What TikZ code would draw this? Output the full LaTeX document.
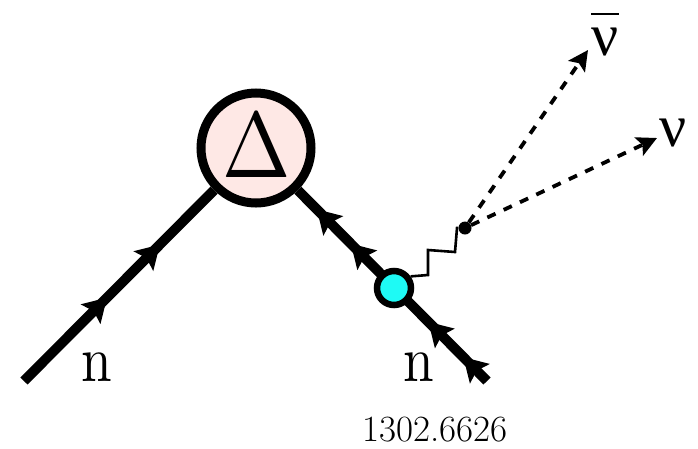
\documentclass[tikz,border=0pt]{standalone}
\usepackage{graphicx}
\usepackage{fontspec}
\newfontfamily\greekfont{Liberation Serif}
\usetikzlibrary{arrows.meta,decorations.markings}
\definecolor{deltafill}{RGB}{254,232,229}
\definecolor{blobfill}{RGB}{30,250,245}
\tikzset{
  fermion/.style={line width=10pt,line cap=butt,draw=black},
  neutrino/.style={line width=3.8pt,draw=black,dash pattern=on 9pt off 9pt,
    -{Stealth[length=20pt,width=20pt,inset=4pt]}},
  label/.style={inner sep=0pt,text=black},
}
\newcommand{\ftip}{\arrow{Stealth[length=23pt,width=27pt,inset=4pt]}}
\begin{document}
\begin{tikzpicture}[x=1pt,y=-1pt]
\useasboundingbox (0,0) rectangle (698,448);
\fill[white] (0,0) rectangle (698,448);
\node[circle,draw=black,fill=deltafill,line width=9pt,minimum size=110pt,inner sep=0pt] (delta) at (256,148) {};
\node[label] (deltatext) at (257,146) {\scalebox{8.2}[9.3]{$\Delta$}};
\coordinate (leftend) at (24,381);
\coordinate (rightend) at (487,381);
\draw[fermion,decoration={markings,
   mark=at position 0.437 with {\ftip},
   mark=at position 0.715 with {\ftip}},
   postaction={decorate}] (leftend) -- (delta);
\draw[fermion,decoration={markings,
   mark=at position 0.125 with {\ftip},
   mark=at position 0.31 with {\ftip},
   mark=at position 0.72 with {\ftip},
   mark=at position 0.90 with {\ftip}},
   postaction={decorate}] (rightend) -- (delta);
\node[circle,draw=black,fill=blobfill,line width=6.5pt,minimum size=34pt,inner sep=0pt] (blob) at (394,288) {};
\node[circle,fill=black,minimum size=13pt,inner sep=0pt] (vertex) at (465,228) {};
\draw[line width=2.6pt,line join=miter] (blob.35) -- (428,275) -- (428,250) -- (455,252) -- (457,228) -- (vertex);
\coordinate (nubarend) at (588,50);
\coordinate (nuend) at (657,138);
\draw[neutrino] (vertex) -- (nubarend);
\draw[neutrino] (vertex) -- (nuend);
\node[label] (n1) at (97,367) {\scalebox{5.5}[6.5]{n}};
\node[label] (n2) at (419,367) {\scalebox{5.5}[6.5]{n}};
\node[label,anchor=base] (nubar) at (605,55) {\scalebox{6}{$\overline{\mbox{\greekfont ν}\rule{0pt}{5.4pt}}$}};
\node[label] (nu) at (673,133) {\scalebox{6}{\greekfont ν}};
\node[label] (ref) at (435,430) {\fontsize{37}{39}\selectfont 1302.6626};
\end{tikzpicture}
\end{document}
